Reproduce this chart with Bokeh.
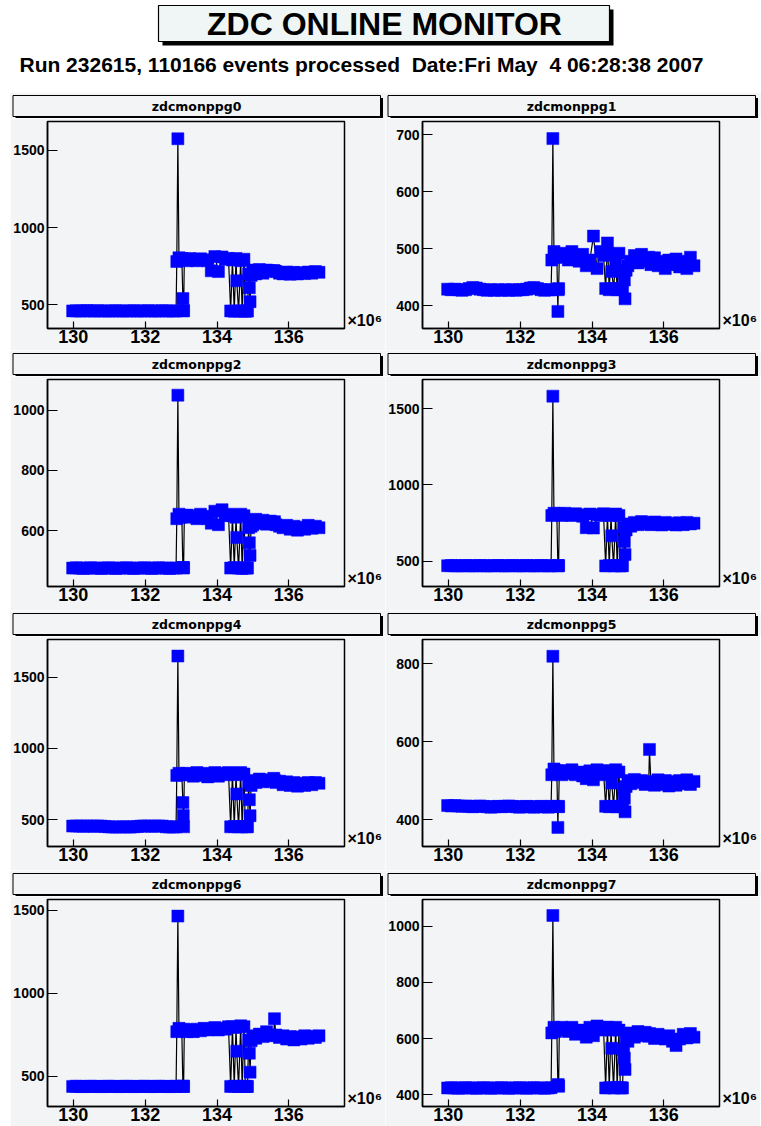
from bokeh.plotting import figure
from bokeh.models import Range1d, FixedTicker, Label, Spacer, LinearAxis
from bokeh.layouts import column, row
from bokeh.embed import file_html
from bokeh.resources import INLINE

PAD_BG = "#f2f4f6"
FONT = "Liberation Sans"
MARKER_BLUE = "#0000ff"

title_text = "ZDC ONLINE MONITOR"
# non-breaking spaces keep the double gaps visible
subtitle_text = "Run 232615, 110166 events processed\u00a0 Date:Fri May\u00a0 4 06:28:38 2007"
exponent_text = "\u00d710\u2076"

pad_names = ["zdcmonppg0", "zdcmonppg1", "zdcmonppg2", "zdcmonppg3",
             "zdcmonppg4", "zdcmonppg5", "zdcmonppg6", "zdcmonppg7"]

# sample positions, in units of 1e6
x_vals = [
    129.98, 130.08, 130.18, 130.28, 130.38, 130.48, 130.58, 130.68, 130.78, 130.88,
    130.98, 131.08, 131.18, 131.28, 131.38, 131.48, 131.58, 131.68, 131.78, 131.88,
    131.98, 132.08, 132.18, 132.28, 132.38, 132.48, 132.58, 132.68, 132.78, 132.86,
    132.88, 132.91, 132.94, 132.98, 133.02, 133.05, 133.06, 133.07, 133.09, 133.16,
    133.24, 133.34, 133.44, 133.54, 133.64, 133.74, 133.84, 133.94, 134.04, 134.14,
    134.24, 134.32, 134.38, 134.43, 134.48, 134.53, 134.55, 134.60, 134.66, 134.70,
    134.75, 134.79, 134.82, 134.85, 134.88, 134.90, 134.92, 134.95, 135.00, 135.08,
    135.18, 135.28, 135.38, 135.48, 135.58, 135.60, 135.64, 135.74, 135.84, 135.94,
    136.04, 136.14, 136.24, 136.34, 136.44, 136.54, 136.64, 136.74, 136.84,
]

ppg0 = [
    460, 461, 459, 460, 462, 460, 459, 461, 460, 460,
    459, 460, 461, 460, 459, 460, 460, 461, 459, 460,
    460, 461, 460, 459, 460, 461, 460, 460, 459, 460,
    780, 1576, 805, 790, 800, 540, 460, 462, 795, 785,
    800, 790, 785, 798, 792, 785, 720, 812, 715, 810,
    795, 800, 460, 790, 458, 800, 655, 460, 785, 460,
    795, 458, 460, 459, 700, 610, 520, 690, 725, 700,
    728, 705, 725, 720, 722, 718, 715, 705, 700, 712,
    698, 710, 700, 708, 702, 712, 705, 715, 710,
]

ppg1 = [
    429, 428, 429, 428, 427, 428, 430, 432, 431, 429,
    428, 427, 428, 427, 428, 427, 428, 427, 428, 427,
    428, 428, 429, 431, 432, 430, 428, 427, 428, 428,
    480, 693, 495, 485, 490, 390, 428, 430, 485, 492,
    490, 480, 495, 485, 478, 490, 470, 480, 522, 465,
    495, 488, 430, 510, 428, 490, 460, 430, 480, 428,
    492, 430, 428, 429, 460, 445, 412, 462, 470, 478,
    488, 475, 490, 480, 485, 478, 472, 484, 470, 478,
    465, 480, 472, 482, 468, 478, 465, 485, 470,
]

ppg2 = [
    476, 477, 476, 475, 476, 477, 476, 476, 475, 476,
    477, 476, 475, 476, 476, 477, 476, 475, 476, 476,
    477, 476, 475, 476, 477, 476, 476, 475, 476, 476,
    640, 1050, 655, 645, 650, 478, 476, 478, 648, 652,
    645, 650, 640, 655, 648, 640, 625, 665, 620, 670,
    650, 655, 476, 650, 478, 645, 578, 476, 655, 475,
    650, 477, 476, 476, 610, 560, 518, 615, 620, 638,
    625, 635, 622, 632, 628, 630, 620, 615, 610, 618,
    605, 615, 602, 612, 605, 618, 608, 615, 610,
]

ppg3 = [
    471, 472, 471, 470, 471, 472, 471, 470, 471, 472,
    471, 470, 471, 471, 472, 471, 470, 471, 472, 471,
    470, 471, 472, 471, 470, 471, 472, 471, 470, 471,
    800, 1582, 815, 805, 810, 472, 470, 472, 812, 800,
    815, 805, 800, 812, 805, 795, 720, 810, 718, 805,
    800, 812, 470, 805, 472, 800, 667, 470, 810, 472,
    800, 470, 472, 471, 720, 630, 545, 705, 745, 730,
    755, 740, 760, 750, 745, 752, 740, 758, 745, 738,
    755, 742, 750, 738, 752, 740, 755, 745, 750,
]

ppg4 = [
    455, 456, 455, 454, 456, 455, 454, 456, 455, 452,
    450, 449, 448, 449, 450, 449, 448, 450, 452, 455,
    456, 455, 454, 455, 456, 455, 450, 449, 448, 450,
    810, 1647, 825, 815, 820, 620, 530, 450, 815, 825,
    820, 805, 830, 810, 825, 800, 815, 830, 805, 825,
    815, 830, 450, 825, 452, 815, 680, 450, 830, 450,
    820, 452, 450, 451, 760, 640, 528, 740, 775, 760,
    785, 765, 780, 770, 790, 775, 760, 770, 745, 765,
    740, 760, 735, 755, 740, 760, 745, 760, 755,
]

ppg5 = [
    436, 435, 436, 435, 434, 435, 434, 433, 434, 435,
    434, 433, 432, 433, 434, 433, 434, 435, 434, 433,
    432, 433, 434, 433, 432, 433, 434, 433, 432, 434,
    515, 819, 530, 520, 525, 380, 434, 433, 525, 515,
    525, 518, 528, 515, 522, 512, 505, 525, 502, 528,
    515, 525, 434, 525, 433, 520, 494, 434, 528, 433,
    522, 434, 433, 434, 480, 455, 420, 485, 500, 492,
    503, 495, 500, 490, 498, 580, 495, 488, 502, 490,
    500, 486, 498, 488, 500, 492, 502, 490, 498,
]

ppg6 = [
    440, 441, 440, 439, 440, 441, 440, 440, 439, 440,
    441, 440, 440, 439, 440, 441, 440, 439, 440, 440,
    441, 440, 439, 440, 441, 440, 440, 439, 440, 441,
    770, 1466, 790, 780, 775, 440, 442, 440, 785, 770,
    780, 770, 785, 775, 790, 780, 785, 795, 780, 790,
    785, 800, 440, 800, 441, 795, 652, 440, 805, 440,
    800, 441, 440, 440, 720, 640, 526, 715, 745, 730,
    755, 740, 770, 750, 745, 848, 750, 735, 745, 725,
    740, 720, 738, 725, 745, 730, 742, 735, 745,
]

ppg7 = [
    424, 425, 424, 423, 424, 425, 424, 424, 423, 424,
    425, 424, 423, 424, 424, 425, 424, 423, 424, 424,
    425, 424, 423, 424, 425, 424, 424, 423, 424, 425,
    620, 1038, 640, 625, 635, 432, 436, 430, 630, 640,
    635, 625, 640, 615, 630, 620, 605, 640, 610, 645,
    630, 640, 424, 640, 425, 630, 565, 424, 640, 426,
    630, 424, 425, 424, 560, 530, 490, 600, 590, 620,
    605, 625, 610, 622, 608, 618, 612, 600, 615, 605,
    598, 610, 590, 575, 598, 615, 602, 618, 605,
]

series = [ppg0, ppg1, ppg2, ppg3, ppg4, ppg5, ppg6, ppg7]

x_limits = (129.28, 137.55)
x_ticks = [130, 132, 134, 136]
y_limits = [(346, 1688), (360, 723), (415, 1102), (335, 1691),
            (312, 1763), (331, 862), (319, 1566), (358, 1095)]
y_ticks = [[500, 1000, 1500], [400, 500, 600, 700], [600, 800, 1000], [500, 1000, 1500],
           [500, 1000, 1500], [400, 600, 800], [500, 1000, 1500], [400, 600, 800, 1000]]

# page geometry (pixels)
PAGE_W = 761
HEADER_H = 92
ROW_H = [258, 260, 260, 256]
PAD_W = 375
PAD_X0 = [10, 385]
STRIP_H = 26
FRAME_H = 207
FRAME_W = 299
FRAME_LEFT = 37


def blank_canvas(width, height, bg):
    p = figure(width=width, height=height, x_range=Range1d(0, width), y_range=Range1d(0, height),
               toolbar_location=None, output_backend="svg", x_axis_type=None, y_axis_type=None,
               min_border=0, background_fill_color=bg, border_fill_color=bg,
               outline_line_color=None)
    return p


def make_header():
    h = HEADER_H
    p = blank_canvas(PAGE_W, h, "white")
    # drop shadow, then the title box
    p.quad(left=[162], right=[613], top=[h - 9], bottom=[h - 45],
           fill_color="black", line_color=None)
    p.quad(left=[158], right=[609], top=[h - 5], bottom=[h - 41],
           fill_color="#f0f5f5", line_color="black", line_width=1.2)
    p.add_layout(Label(x=384, y=h - 23, text=title_text, text_align="center",
                       text_baseline="middle", text_font=FONT, text_font_style="bold",
                       text_font_size="32px", text_color="black"))
    p.add_layout(Label(x=361, y=h - 64, text=subtitle_text, text_align="center",
                       text_baseline="middle", text_font=FONT, text_font_style="bold",
                       text_font_size="21px", text_color="black"))
    return p


def make_strip(names):
    """Title bar across both pads of one row."""
    h = STRIP_H
    p = blank_canvas(PAGE_W, h, "white")
    for x0, name in zip(PAD_X0, names):
        p.quad(left=[x0], right=[x0 + PAD_W], top=[h], bottom=[0],
               fill_color=PAD_BG, line_color=None)
        p.quad(left=[x0 + 5], right=[x0 + 372.5], top=[h - 5.5], bottom=[0],
               fill_color="black", line_color=None)
        p.quad(left=[x0 + 2.5], right=[x0 + 370], top=[h - 3], bottom=[h - 24],
               fill_color=PAD_BG, line_color="black", line_width=1)
        p.add_layout(Label(x=x0 + 186, y=h - 13.5, text=name, text_align="center",
                           text_baseline="middle", text_font="DejaVu Sans",
                           text_font_style="bold", text_font_size="12.5px",
                           text_color="black"))
    return p


def style_axis(ax, size, tick_in, standoff):
    ax.major_label_text_font = FONT
    ax.major_label_text_font_style = "bold"
    ax.major_label_text_font_size = size
    ax.major_label_text_color = "black"
    ax.major_label_standoff = standoff
    ax.major_tick_in = tick_in
    ax.major_tick_out = 0
    ax.minor_tick_in = 0
    ax.minor_tick_out = 0
    ax.major_tick_line_color = "black"
    ax.major_tick_line_width = 1.2
    ax.axis_line_color = "black"
    ax.axis_line_width = 1.5


def make_pad(i, plot_h):
    bottom = plot_h - 3 - FRAME_H
    y_lo, y_hi = y_limits[i]
    p = figure(width=PAD_W, height=plot_h,
               x_range=Range1d(*x_limits), y_range=Range1d(y_lo, y_hi),
               toolbar_location=None, output_backend="svg",
               min_border_left=FRAME_LEFT, min_border_right=PAD_W - FRAME_LEFT - FRAME_W,
               min_border_top=3, min_border_bottom=bottom,
               background_fill_color=PAD_BG, border_fill_color=PAD_BG,
               outline_line_color="black", outline_line_width=1.5)
    p.grid.visible = False

    p.line(x_vals, series[i], line_color="black", line_width=1.2)
    p.scatter(x_vals, series[i], marker="square", size=12,
              fill_color=MARKER_BLUE, line_color=MARKER_BLUE, line_width=0.5)

    xa = p.xaxis[0]
    xa.ticker = FixedTicker(ticks=x_ticks)
    style_axis(xa, "18px", 7, 1)

    ya = p.yaxis[0]
    ya.ticker = FixedTicker(ticks=y_ticks[i])
    style_axis(ya, "14px", 10, 3)

    # x-axis multiplier, printed just right of the frame's lower corner
    exp_tick = int(round(y_lo + 8 * (y_hi - y_lo) / FRAME_H))
    ea = LinearAxis(ticker=FixedTicker(ticks=[exp_tick]),
                    major_label_overrides={exp_tick: exponent_text})
    style_axis(ea, "16px", 0, 3)
    ea.axis_line_color = None
    ea.major_tick_line_color = None
    p.add_layout(ea, "right")
    return p


rows = []
for r in range(4):
    plot_h = ROW_H[r] - STRIP_H
    cells = [Spacer(width=PAD_X0[0], height=plot_h)]
    for c in range(2):
        cells.append(make_pad(2 * r + c, plot_h))
    cells.append(Spacer(width=PAGE_W - PAD_X0[0] - 2 * PAD_W, height=plot_h))
    rows.append(make_strip(pad_names[2 * r:2 * r + 2]))
    rows.append(row(*cells, spacing=0))

page = column(make_header(), *rows, spacing=0)

open("out.html", "w").write(file_html(page, INLINE))
